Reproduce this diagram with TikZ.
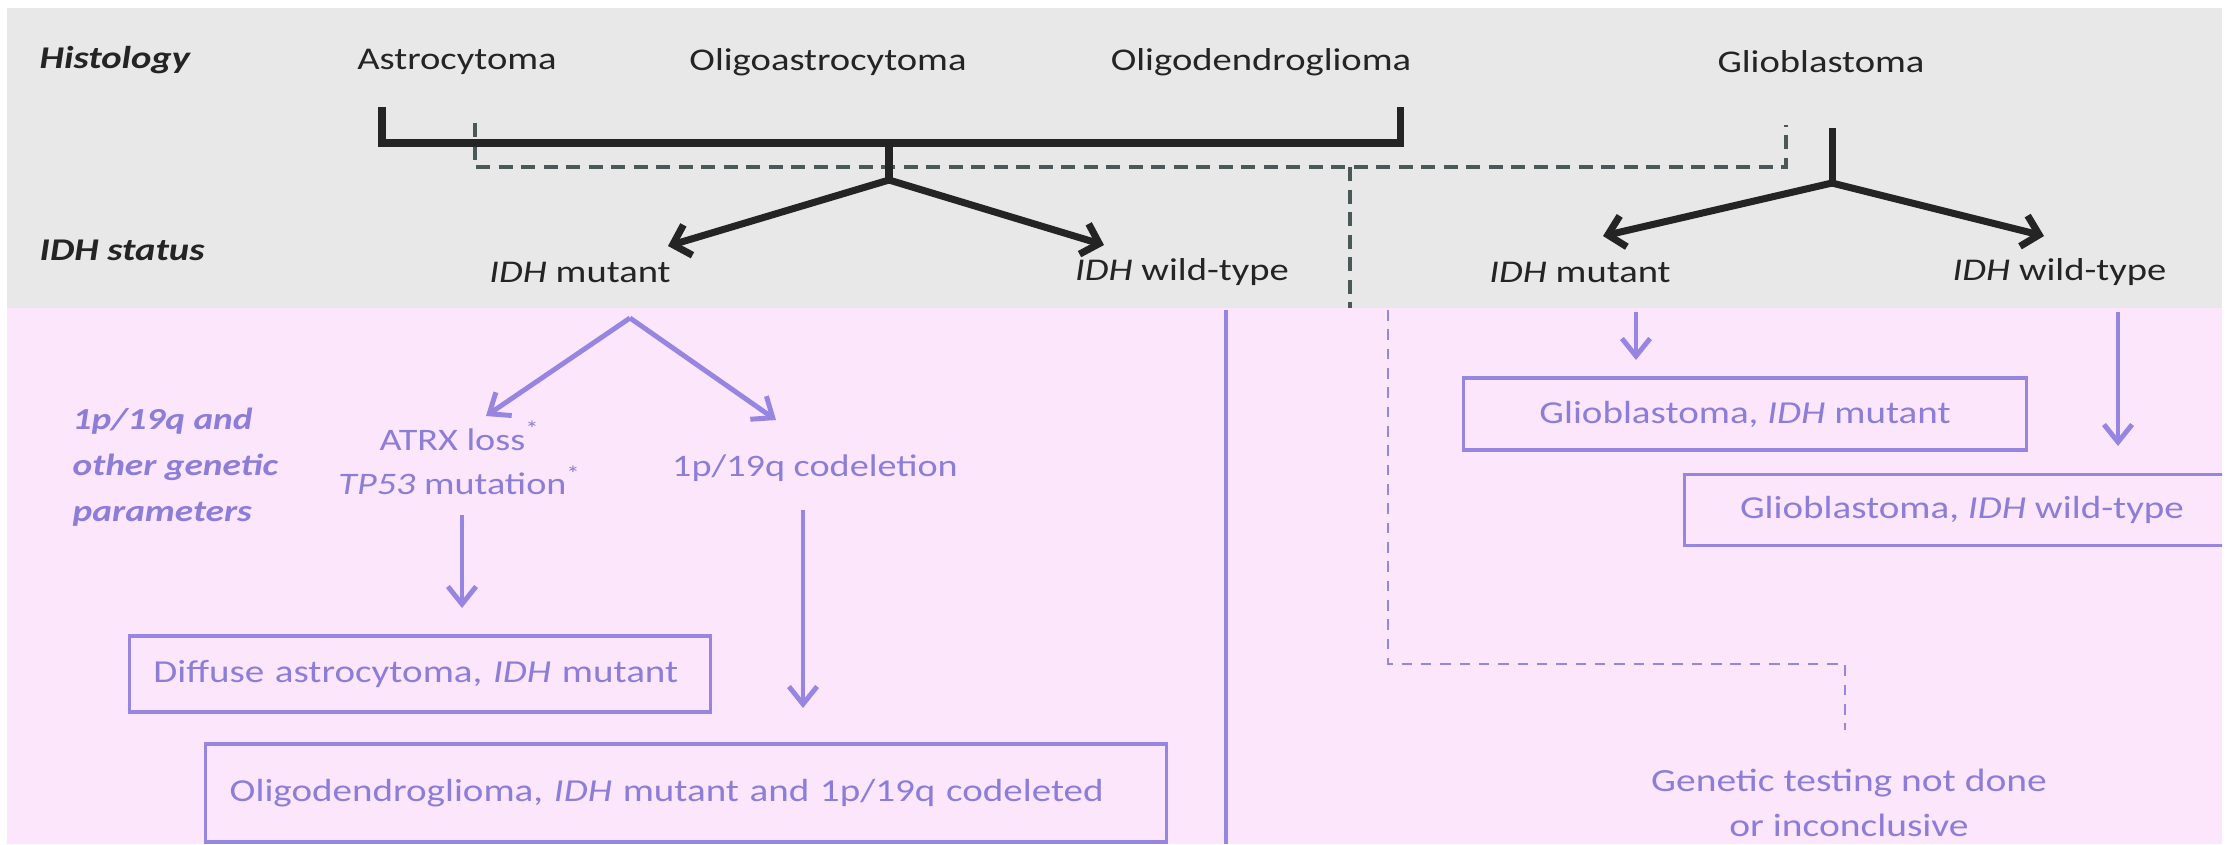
\documentclass[tikz,border=0pt]{standalone}
\usepackage{fontspec}
\setmainfont{Carlito}[FakeStretch=1.22]
\usepackage{xcolor}
\usepackage{tikz}
\usetikzlibrary{arrows.meta,positioning,calc}
\definecolor{bandgray}{HTML}{E8E8E8}
\definecolor{bandpink}{HTML}{FBE6FB}
\definecolor{inkdark}{HTML}{242424}
\definecolor{dashdark}{HTML}{4A5858}
\definecolor{lavline}{HTML}{9686E2}
\definecolor{lavtext}{HTML}{8C7ED8}

\begin{document}
\begin{tikzpicture}[
    x=0.01cm, y=-0.01cm,
    head/.style={font=\fontsize{9}{11}\selectfont, text=inkdark, inner sep=0pt},
    tag/.style={font=\fontsize{9}{11}\selectfont\bfseries\itshape, text=inkdark, inner sep=0pt},
    lavlabel/.style={font=\fontsize{8.9}{12.6}\selectfont, text=lavtext, inner sep=0pt, align=center},
    lavtag/.style={font=\fontsize{8.7}{13}\selectfont\bfseries\itshape, text=lavtext, inner sep=0pt, align=left},
    resultbox/.style={rectangle, draw=lavline, line width=0.9pt, text=lavtext, inner sep=0pt, font=\fontsize{9.1}{11}\selectfont},
    leftbox/.style={resultbox, align=left, inner xsep=0.24cm},
    bracket/.style={draw=inkdark, line width=2pt},
    blackarrow/.style={-{Straight Barb[length=4.5pt,width=9pt]}, draw=inkdark, line width=2pt},
    lavarrow/.style={-{Straight Barb[length=5pt,width=8pt]}, draw=lavline, line width=1.4pt},
    graydash/.style={draw=dashdark, line width=1.4pt, dash pattern=on 4pt off 2.4pt},
    lavdash/.style={draw=lavline, line width=0.6pt, dash pattern=on 3pt off 2.5pt}
]
    \useasboundingbox (0,0) rectangle (2234,844);
    \fill[bandgray] (7,8) rectangle (2222,308);
    \fill[bandpink] (7,308) rectangle (2222,844);

    \node[tag, anchor=west] (histology) at (39,60) {Histology};
    \node[head] (astro) at (457,62) {Astrocytoma};
    \node[head] (oligoastro) at (828,62) {Oligoastrocytoma};
    \node[head] (oligodendro) at (1261,62) {Oligodendroglioma};
    \node[head] (gbm) at (1821,62) {Glioblastoma};

    \node[tag, anchor=west] (idhstatus) at (39,250) {IDH status};
    \node[head] (mutL) at (580,272) {\textit{IDH} mutant};
    \node[head] (wildL) at (1182,272) {\textit{IDH} wild-type};
    \node[head] (mutR) at (1580,272) {\textit{IDH} mutant};
    \node[head, anchor=west] (wildR) at (1952,272) {\textit{IDH} wild-type};

    \coordinate (hubL) at (889,180);
    \coordinate (hubR) at (1832,183);
    \coordinate (tipmutL) at (668,246);
    \coordinate (tipwildL) at (1104,245);
    \coordinate (tipmutR) at (1603,236);
    \coordinate (tipwildR) at (2044,236);

    \draw[graydash] (475,123) -- (475,167) -- (1786,167) -- (1786,125);
    \draw[graydash] (1350,167) -- (1350,308);
    \draw[bracket] (382,107) -- (382,143) -- (1400,143) -- (1400,107);
    \draw[bracket] (889,143) -- (hubL);
    \draw[bracket] (1832,128) -- (hubR);
    \draw[blackarrow] (hubL) -- (tipmutL);
    \draw[blackarrow] (hubL) -- (tipwildL);
    \draw[blackarrow] (hubR) -- (tipmutR);
    \draw[blackarrow] (hubR) -- (tipwildR);

    \draw[draw=lavline, line width=1.1pt] (1226,310) -- (1226,844);

    \node[lavtag, anchor=west] (genetic) at (72,467) {1p/19q and\\other genetic\\parameters};
    \node[lavlabel] (atrx) at (460,458) {ATRX loss\textsuperscript{*}\\\textit{TP53} mutation\textsuperscript{*}};
    \node[lavlabel] (codel) at (815,468) {1p/19q codeletion};

    \node[leftbox, text width=5.33cm, minimum height=0.76cm] (diffuse) at (420,674) {Diffuse astrocytoma, \textit{IDH} mutant};
    \node[leftbox, text width=9.12cm, minimum height=0.98cm] (oligobox) at (686,793) {Oligodendroglioma, \textit{IDH} mutant and 1p/19q codeleted};
    \node[resultbox, minimum width=5.62cm, minimum height=0.72cm] (gbmmut) at (1745,414) {Glioblastoma, \textit{IDH} mutant};
    \begin{scope}
        \clip (0,0) rectangle (2222,844);
        \node[resultbox, minimum width=5.55cm, minimum height=0.71cm] (gbmwild) at (1962,510) {Glioblastoma, \textit{IDH} wild-type};
    \end{scope}
    \node[lavlabel, font=\fontsize{9.2}{12.8}\selectfont] (untested) at (1849,803) {Genetic testing not done\\or inconclusive};

    \coordinate (apex) at (630,318);
    \coordinate (tipatrx) at (486,416);
    \coordinate (tipcodel) at (776,420);
    \coordinate (startatrx) at (462,515);
    \coordinate (tipdiffuse) at (462,608);
    \coordinate (startcodel) at (803,510);
    \coordinate (tipoligo) at (803,708);
    \coordinate (startmutR) at (1636,312);
    \coordinate (tipgbmmut) at (1636,360);
    \coordinate (startwildR) at (2118,312);
    \coordinate (tipgbmwild) at (2118,446);

    \draw[lavarrow] (apex) -- (tipatrx);
    \draw[lavarrow] (apex) -- (tipcodel);
    \draw[lavarrow] (startatrx) -- (tipdiffuse);
    \draw[lavarrow] (startcodel) -- (tipoligo);
    \draw[lavarrow] (startmutR) -- (tipgbmmut);
    \draw[lavarrow] (startwildR) -- (tipgbmwild);
    \draw[lavdash] (1388,310) -- (1388,664) -- (1845,664) -- (1845,730);
\end{tikzpicture}
\end{document}
